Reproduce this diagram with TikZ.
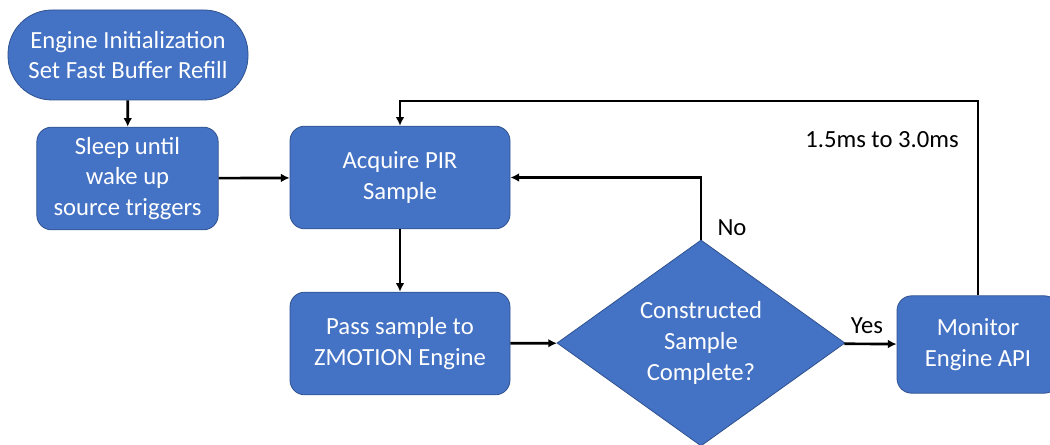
\documentclass[tikz,border=0pt]{standalone}
\usepackage{fontspec}
\setmainfont{Carlito}
\usepackage{tikz}
\usetikzlibrary{arrows.meta,shapes.geometric}
\definecolor{boxblue}{HTML}{4472C4}
\definecolor{boxline}{HTML}{2F528F}

\tikzset{
  block/.style={draw=boxline, line width=0.6pt, fill=boxblue, text=white, align=center,
    rounded corners=11pt, inner sep=2pt, font=\fontsize{18.5}{23}\selectfont},
  decision/.style={draw=boxline, line width=0.6pt, fill=boxblue, text=white, align=center,
    diamond, inner sep=0pt, minimum width=216pt, minimum height=154.5pt,
    font=\fontsize{18.5}{23}\selectfont},
  flow/.style={line width=2pt, -{Latex[length=6.5pt,width=6.5pt]}},
  lbl/.style={font=\fontsize{18.5}{23}\selectfont}
}

\begin{document}
\begin{tikzpicture}[x=0.75pt, y=-0.75pt]
\useasboundingbox (0,0) rectangle (1050,445);
\clip (0,0) rectangle (1050,445);

\node[block, rounded corners=33pt, minimum width=180pt, minimum height=67.5pt] (init) at (128,55) {Engine Initialization\\Set Fast Buffer Refill};
\node[block, minimum width=136pt, minimum height=77pt] (sleep) at (127.5,178.5) {Sleep until\\wake up\\source triggers};
\node[block, minimum width=165pt, minimum height=77pt] (acquire) at (400,177.5) {Acquire PIR\\Sample};
\node[block, minimum width=165pt, minimum height=77pt] (pass) at (400,343.5) {Pass sample to\\ZMOTION Engine};
\node[decision] (check) at (701,343) {Constructed\\Sample\\Complete?};
\node[block, minimum width=121.5pt, minimum height=73pt] (monitor) at (978,344.5) {Monitor\\Engine API};

\coordinate (looptop) at (978,101);

\draw[flow] (init) -- (sleep);
\draw[flow] (sleep) -- (acquire);
\draw[flow] (acquire) -- (pass);
\draw[flow] (pass) -- (check);
\draw[flow] (check.north) |- (acquire.east);
\draw[flow] (check) -- (monitor);
\draw[flow] (monitor.north) -- (looptop) -| (acquire.north);

\node[lbl] (no) at (732,228) {No};
\node[lbl] (yes) at (867,326) {Yes};
\node[lbl] (timing) at (882,140) {1.5ms to 3.0ms};
\end{tikzpicture}
\end{document}
